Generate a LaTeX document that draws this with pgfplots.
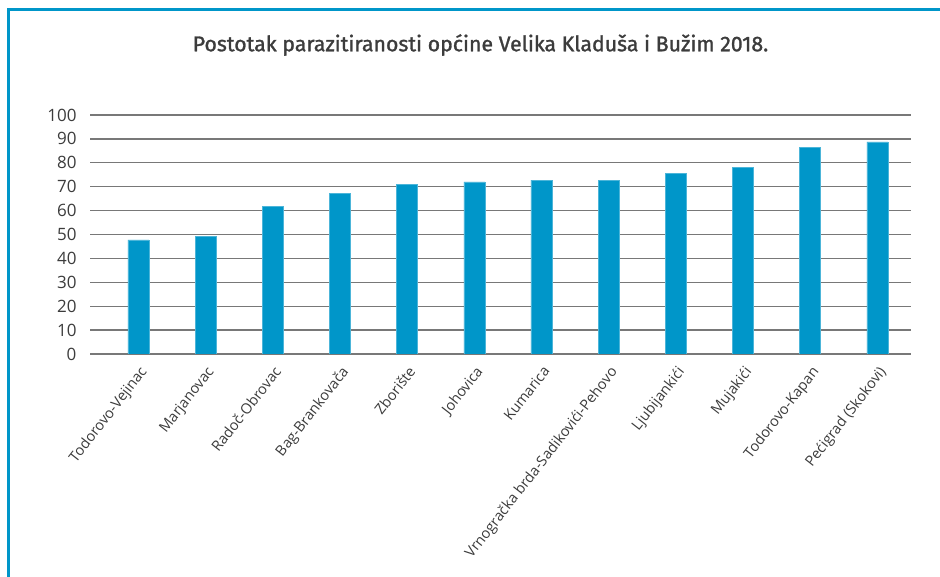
\documentclass[border=0pt]{standalone}
\usepackage{pgfplots}
\pgfplotsset{compat=1.18}
\usepackage{fontspec}
\setmainfont{Open Sans}
\newfontfamily\titlefont[FakeBold=1.3]{Fira Sans}
\definecolor{barblue}{RGB}{0,150,201}
\definecolor{frameblue}{RGB}{0,150,201}
\definecolor{txt}{RGB}{60,60,60}
\definecolor{gridc}{RGB}{120,120,120}
\begin{document}
\begin{tikzpicture}
\path[use as bounding box] (0pt,0pt) rectangle (940pt,577pt);
\draw[frameblue, line width=2.5pt] (8.5pt,-10pt) |- (960pt,567.5pt);
\node[text=txt, font=\titlefont\fontsize{21.3}{24}\selectfont] at (480.5pt,532pt) {Postotak parazitiranosti općine Velika Kladuša i Bužim 2018.};
\begin{axis}[
  at={(90pt,223pt)}, anchor=south west,
  scale only axis, width=821pt, height=239pt,
  xmin=-0.72, xmax=11.5, ymin=0, ymax=100,
  axis line style={draw=none},
  ytick={0,10,...,100},
  ymajorgrids, major grid style={gridc, line width=1.3pt},
  xtick={0,...,11},
  xticklabels={Todorovo-Vejinac,Marjanovac,Radoč-Obrovac,Bag-Brankovača,Zborište,Johovica,Kumarica,Vrnogračka brda-Sadikovići-Pehovo,Ljubijankići,Mujakići,Todorovo-Kapan,Pećigrad (Skokovi)},
  xticklabel style={rotate=52, anchor=north east, font=\fontsize{14.5}{16}\selectfont, text=txt, inner sep=2pt},
  yticklabel style={font=\fontsize{17}{19}\selectfont, text=txt},
  /pgf/number format/assume math mode=true,
  major tick length=0pt,
  xticklabel shift=8pt,
  yticklabel shift=10pt,
]
\addplot[ybar, bar width=21pt, fill=barblue, draw=barblue!70!white, line width=0.6pt] coordinates {
(0,47.7) (1,49.1) (2,61.8) (3,67.2) (4,71.1) (5,72.0) (6,72.8) (7,72.8) (8,75.6) (9,78.0) (10,86.3) (11,88.7)
};
\end{axis}
\end{tikzpicture}
\end{document}
